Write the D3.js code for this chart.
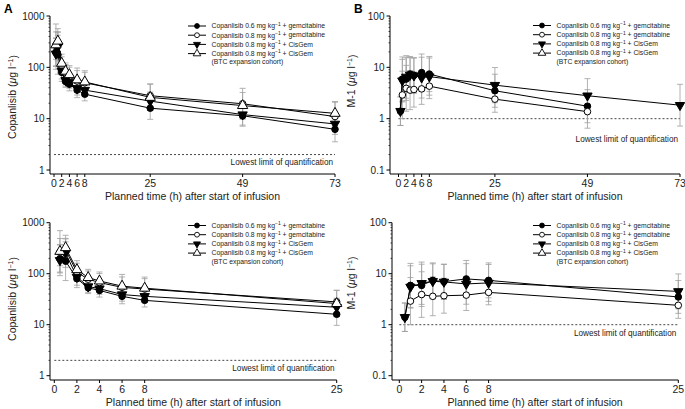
<!DOCTYPE html>
<html>
<head>
<meta charset="utf-8">
<script src="https://cdnjs.cloudflare.com/ajax/libs/d3/7.8.5/d3.min.js"></script>
<style>
html,body{margin:0;padding:0;background:#fff;}
svg{display:block;font-family:"Liberation Sans",Arial,Helvetica,sans-serif;}
</style>
</head>
<body>
<svg id="chart" width="685" height="409"></svg>
<script>
// ---------------- DATA ----------------
const times = [0.5, 1, 2, 3, 4, 6, 8, 25, 49, 73];
const seriesLabels = [
  ["Copanlisib 0.6 mg kg", " + gemcitabine"],
  ["Copanlisib 0.8 mg kg", " + gemcitabine"],
  ["Copanlisib 0.8 mg kg", " + CisGem"],
  ["Copanlisib 0.8 mg kg", " + CisGem"]
];
const legendExtra = "(BTC expansion cohort)";

// Copanlisib plasma concentration (µg l-1), geometric means
const copGem06 = [197, 176, 80, 53, 47, 36, 30, 16, 11.4, 6.2];
const copGem08 = [265, 290, 107, 78, 67, 54, 50, 28, 19.5, 11];
const copCis08 = [183, 253, 86, 56, 51, 39, 36, 22, 12, 7.9];
const copBtc   = [274, 324, 120, 84, 72, 57, 52, 26, 18, 12.7];
// geometric SD factors (error bars)
const copGem06Gsd = [1.9, 2.4, 1.5, 1.3, 1.35, 1.4, 1.35, 1.65, 1.6, 1.75];
const copGem08Gsd = [1.85, 1.7, 1.5, 1.45, 1.5, 1.6, 1.6, 1.7, 2.0, 1.9];
const copCis08Gsd = [2.0, 1.9, 1.45, 1.3, 1.3, 1.35, 1.3, 1.5, 1.6, 1.6];
const copBtcGsd   = [2.55, 1.75, 1.5, 1.45, 1.5, 1.7, 1.65, 1.8, 1.8, 1.7];

// M-1 metabolite concentration (µg l-1)
const m1Gem06 = [1.4, 5.9, 5.9, 7.4, 7.0, 7.9, 7.4, 3.5, 1.75, null];
const m1Gem08 = [null, 2.9, 3.9, 3.6, 3.7, 3.8, 4.3, 2.4, 1.37, null];
const m1Cis08 = [1.4, 5.5, 6.5, 7.1, 6.9, 6.3, 6.6, 4.5, 2.8, 1.83];
const m1Btc   = [null, null, null, null, null, null, null, null, null, null];
const m1Gem06Gsd = [1.9, 2.7, 2.6, 2.2, 2.2, 2.3, 2.2, 2.1, 2.1, null];
const m1Gem08Gsd = [null, 2.9, 2.8, 2.4, 2.2, 2.0, 1.75, 1.8, 2.1, null];
const m1Cis08Gsd = [1.9, 2.6, 2.6, 2.2, 2.2, 2.5, 2.3, 2.2, 2.15, 2.55];
const m1BtcGsd   = [null, null, null, null, null, null, null, null, null, null];

const copLLQ = 2;
const m1LLQ = 1;

const xTicksFull = [0, 2, 4, 6, 8, 25, 49, 73];
const xTicksZoom = [0, 2, 4, 6, 8, 25];
const copYTicks = [1, 10, 100, 1000];
const m1YTicks = [0.1, 1, 10, 100];
const xTitle = "Planned time (h) after start of infusion";
const llqText = "Lowest limit of quantification";

// ---------------- DRAW ----------------
const svg = d3.select("#chart");
const markers = [
  {type: d3.symbolCircle, fill: "#000", rot: 0, size: 34},
  {type: d3.symbolCircle, fill: "#fff", rot: 0, size: 34},
  {type: d3.symbolTriangle, fill: "#000", rot: 180, size: 38},
  {type: d3.symbolTriangle, fill: "#fff", rot: 0, size: 46}
];

function panel(cfg) {
  const g = svg.append("g");
  const x = d3.scaleLinear().domain(cfg.xdom).range(cfg.xr);
  const y = d3.scaleLog().domain(cfg.ydom).range(cfg.yr);

  // axes lines
  g.append("line").attr("x1", cfg.axisX).attr("x2", cfg.axisX)
    .attr("y1", cfg.yr[1]).attr("y2", cfg.axisY).attr("stroke", "#000").attr("stroke-width", 1);
  g.append("line").attr("x1", cfg.axisX).attr("x2", cfg.xr[1])
    .attr("y1", cfg.axisY).attr("y2", cfg.axisY).attr("stroke", "#000").attr("stroke-width", 1);

  // y ticks (major + minor)
  const [lo, hi] = cfg.ydom;
  const minor = [];
  for (let d = lo; d < hi; d *= 10) for (let k = 2; k <= 9; k++) minor.push(d * k);
  g.selectAll(null).data(minor).enter().append("line")
    .attr("x1", cfg.axisX - 1.5).attr("x2", cfg.axisX)
    .attr("y1", d => y(d)).attr("y2", d => y(d)).attr("stroke", "#000").attr("stroke-width", 0.7);
  g.selectAll(null).data(cfg.yticks).enter().append("line")
    .attr("x1", cfg.axisX - 3.5).attr("x2", cfg.axisX)
    .attr("y1", d => y(d)).attr("y2", d => y(d)).attr("stroke", "#000").attr("stroke-width", 1);
  g.selectAll(null).data(cfg.yticks).enter().append("text")
    .attr("x", cfg.axisX - 5.5).attr("y", d => y(d)).attr("dy", "0.35em")
    .attr("text-anchor", "end").attr("font-size", 10).attr("fill", "#222").text(d => String(d));

  // x ticks
  g.selectAll(null).data(cfg.xticks).enter().append("line")
    .attr("x1", d => x(d)).attr("x2", d => x(d))
    .attr("y1", cfg.axisY).attr("y2", cfg.axisY + 3).attr("stroke", "#000").attr("stroke-width", 1);
  g.selectAll(null).data(cfg.xticks).enter().append("text")
    .attr("x", d => x(d)).attr("y", cfg.axisY + 9).attr("dy", "0.35em")
    .attr("text-anchor", "middle").attr("font-size", 10.5).attr("fill", "#222").text(d => String(d));

  // x title
  g.append("text").attr("x", (cfg.axisX + cfg.xr[1]) / 2).attr("y", cfg.axisY + 22).attr("dy", "0.35em")
    .attr("text-anchor", "middle").attr("font-size", 10.5).attr("fill", "#222").text(xTitle);

  // y title
  const yt = g.append("text").attr("transform", `translate(${cfg.ytitleX},${cfg.ytitleY}) rotate(-90)`)
    .attr("text-anchor", "middle").attr("dy", "0.35em").attr("font-size", 10.5).attr("fill", "#222");
  yt.append("tspan").text(cfg.ytitle + " (");
  yt.append("tspan").attr("font-style", "italic").text("\u03bc");
  yt.append("tspan").text("g l");
  yt.append("tspan").attr("font-size", 7).attr("dy", "-0.45em").text("\u22121");
  yt.append("tspan").attr("dy", "0.45em").text(")");

  // LLQ
  g.append("line").attr("x1", x(0)).attr("x2", cfg.xr[1])
    .attr("y1", y(cfg.llq)).attr("y2", y(cfg.llq))
    .attr("stroke", "#333").attr("stroke-width", 0.9).attr("stroke-dasharray", "2,2");
  g.append("text").attr("x", cfg.xr[1] - 2).attr("y", cfg.llqTextY).attr("dy", "0.35em")
    .attr("text-anchor", "end").attr("font-size", 8.2).attr("fill", "#222").text(llqText);

  // series
  const xmax = cfg.xdom[1];
  cfg.series.forEach((s) => {
    const pts = times.map((t, i) => ({t, v: s.vals[i], g: s.gsd[i]}))
      .filter(p => p.v != null && p.t <= xmax);
    const eg = g.append("g").attr("stroke", "#a0a0a0").attr("stroke-width", 0.8);
    pts.forEach(p => {
      if (p.g == null) return;
      const yu = y(p.v * p.g), yl = y(p.v / p.g), xx = x(p.t);
      eg.append("line").attr("x1", xx).attr("x2", xx).attr("y1", yu).attr("y2", yl);
      eg.append("line").attr("x1", xx - 3).attr("x2", xx + 3).attr("y1", yu).attr("y2", yu);
      eg.append("line").attr("x1", xx - 3).attr("x2", xx + 3).attr("y1", yl).attr("y2", yl);
    });
    s.pts = pts;
  });
  cfg.series.forEach((s) => {
    const line = d3.line().x(p => x(p.t)).y(p => y(p.v));
    if (s.pts.length > 1)
      g.append("path").attr("d", line(s.pts)).attr("fill", "none").attr("stroke", "#000").attr("stroke-width", 1);
  });
  cfg.series.forEach((s, si) => {
    const m = markers[si];
    const sym = d3.symbol().type(m.type).size(m.size);
    g.selectAll(null).data(s.pts).enter().append("path")
      .attr("d", sym)
      .attr("transform", p => `translate(${x(p.t)},${y(p.v)}) rotate(${m.rot})`)
      .attr("fill", m.fill).attr("stroke", "#000").attr("stroke-width", 1);
  });

  // legend
  const lg = g.append("g");
  seriesLabels.forEach((lab, i) => {
    const ly = cfg.legY + i * 9.2;
    lg.append("line").attr("x1", cfg.legX).attr("x2", cfg.legX + 18)
      .attr("y1", ly).attr("y2", ly).attr("stroke", "#000").attr("stroke-width", 1);
    const m = markers[i];
    lg.append("path").attr("d", d3.symbol().type(m.type).size(m.size * 0.55))
      .attr("transform", `translate(${cfg.legX + 9},${ly}) rotate(${m.rot})`)
      .attr("fill", m.fill).attr("stroke", "#000").attr("stroke-width", 0.9);
    const t = lg.append("text").attr("x", cfg.legX + 23.5).attr("y", ly).attr("dy", "0.35em")
      .attr("font-size", 6.8).attr("fill", "#222");
    t.append("tspan").text(lab[0]);
    t.append("tspan").attr("font-size", 5).attr("dy", "-0.5em").text("\u22121");
    t.append("tspan").attr("dy", "0.35em").text(lab[1]);
  });
  lg.append("text").attr("x", cfg.legX + 23.5).attr("y", cfg.legY + 3 * 9.2 + 8.4).attr("dy", "0.35em")
    .attr("font-size", 6.8).attr("fill", "#222").text(legendExtra);

  if (cfg.letter) {
    g.append("text").attr("x", cfg.letterX).attr("y", 13).attr("font-size", 12)
      .attr("font-weight", "bold").text(cfg.letter);
  }
}

const copSeries = () => [
  {vals: copGem06, gsd: copGem06Gsd},
  {vals: copGem08, gsd: copGem08Gsd},
  {vals: copCis08, gsd: copCis08Gsd},
  {vals: copBtc, gsd: copBtcGsd}
];
const m1Series = () => [
  {vals: m1Gem06, gsd: m1Gem06Gsd},
  {vals: m1Gem08, gsd: m1Gem08Gsd},
  {vals: m1Cis08, gsd: m1Cis08Gsd},
  {vals: m1Btc, gsd: m1BtcGsd}
];

// A top
panel({axisX: 50, axisY: 174, xdom: [0, 73], xr: [54, 335], ydom: [1, 1000], yr: [170, 16],
  yticks: copYTicks, xticks: xTicksFull, llq: copLLQ, llqTextY: 162,
  ytitle: "Copanlisib", ytitleX: 12, ytitleY: 97, legX: 188, legY: 26,
  series: copSeries(), letter: "A", letterX: 4});
// B top
panel({axisX: 390, axisY: 174, xdom: [0, 73], xr: [398.5, 680], ydom: [0.1, 100], yr: [170, 16],
  yticks: m1YTicks, xticks: xTicksFull, llq: m1LLQ, llqTextY: 139,
  ytitle: "M-1", ytitleX: 351, ytitleY: 81, legX: 533, legY: 25.5,
  series: m1Series(), letter: "B", letterX: 354});
// bottom left
panel({axisX: 50, axisY: 380, xdom: [0, 25], xr: [54.3, 336.7], ydom: [1, 1000], yr: [375.7, 222.7],
  yticks: copYTicks, xticks: xTicksZoom, llq: copLLQ, llqTextY: 368,
  ytitle: "Copanlisib", ytitleX: 12, ytitleY: 299, legX: 188, legY: 225.5,
  series: copSeries()});
// bottom right
panel({axisX: 392, axisY: 380, xdom: [0, 25], xr: [399.3, 678.3], ydom: [0.1, 100], yr: [375.7, 222.7],
  yticks: m1YTicks, xticks: xTicksZoom, llq: m1LLQ, llqTextY: 333,
  ytitle: "M-1", ytitleX: 351, ytitleY: 283, legX: 533, legY: 225.5,
  series: m1Series()});
</script>
</body>
</html>
